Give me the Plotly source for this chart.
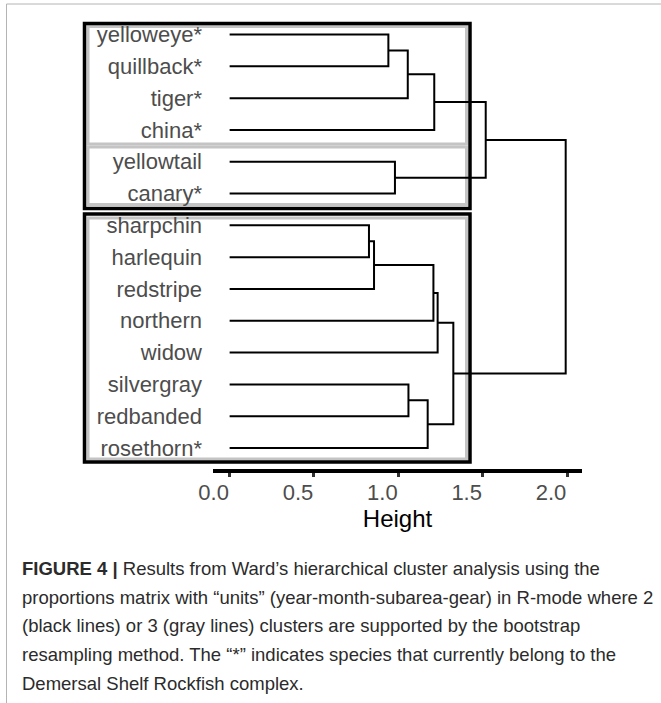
import plotly.graph_objects as go

# ---------------- data ----------------
labels = ["yelloweye*", "quillback*", "tiger*", "china*", "yellowtail", "canary*",
          "sharpchin", "harlequin", "redstripe", "northern", "widow",
          "silvergray", "redbanded", "rosethorn*"]

# hclust-style merge table: negative = leaf (1-based), positive = earlier merge
merge_left = [-1, 1, 2, -5, 3, -7, 6, 7, 8, -12, 10, 9, 5]
merge_right = [-2, -3, -4, -6, 4, -8, -9, -10, -11, -13, -14, 11, 12]
merge_height = [0.941, 1.056, 1.213, 0.980, 1.518, 0.826, 0.856, 1.208, 1.233,
                1.060, 1.174, 1.326, 1.992]

tick_vals = [0.0, 0.5, 1.0, 1.5, 2.0]
tick_text = ["0.0", "0.5", "1.0", "1.5", "2.0"]

caption_lines = [
    "<b>FIGURE 4 |</b> Results from Ward’s hierarchical cluster analysis using the",
    "proportions matrix with “units” (year-month-subarea-gear) in R-mode where 2",
    "(black lines) or 3 (gray lines) clusters are supported by the bootstrap",
    "resampling method. The “*” indicates species that currently belong to the",
    "Demersal Shelf Rockfish complex.",
]

# ---------------- layout geometry (pixels) ----------------
W, H = 661, 703
L, R, T, B = 213, 582, 14, 469


def px(x):
    return (x - L) / (R - L)


def py(y):
    return (B - y) / (B - T)


# ---------------- dendrogram segments ----------------
leaf_pos = list(range(1, len(labels) + 1))
node_pos, node_h = [], []


def child(c):
    if c < 0:
        return leaf_pos[-c - 1], 0.0
    return node_pos[c - 1], node_h[c - 1]


xs, ys = [], []
for a, b, h in zip(merge_left, merge_right, merge_height):
    pa, ha = child(a)
    pb, hb = child(b)
    xs += [ha, h, h, hb, None]
    ys += [pa, pa, pb, pb, None]
    node_pos.append((pa + pb) / 2)
    node_h.append(h)

fig = go.Figure()
fig.add_trace(go.Scatter(x=xs, y=ys, mode="lines",
                         line=dict(color="black", width=2),
                         hoverinfo="skip", showlegend=False, cliponaxis=False))

# ---------------- boxes ----------------
shapes = []
# outer frame of the figure panel
shapes.append(dict(type="rect", xref="paper", yref="paper",
                   x0=px(6.5), x1=px(670), y0=py(4), y1=py(720),
                   line=dict(color="#b4b4b4", width=1), layer="below"))
gray_boxes = [(88, 466.5, 26.5, 144), (88, 466.5, 147, 204.5), (88, 466.5, 218, 459)]
for x0, x1, y0, y1 in gray_boxes:
    shapes.append(dict(type="rect", xref="paper", yref="paper",
                       x0=px(x0), x1=px(x1), y0=py(y0), y1=py(y1),
                       line=dict(color="#c4c4c4", width=3), layer="below"))
black_boxes = [(84.5, 470, 23.5, 208.5), (84.5, 470, 214, 462)]
for x0, x1, y0, y1 in black_boxes:
    shapes.append(dict(type="rect", xref="paper", yref="paper",
                       x0=px(x0), x1=px(x1), y0=py(y0), y1=py(y1),
                       line=dict(color="black", width=3.5), layer="below"))

# ---------------- caption ----------------
annotations = []
cap_y = [568, 597, 625, 654, 683]
for line, yy in zip(caption_lines, cap_y):
    annotations.append(dict(text=line, xref="paper", yref="paper",
                            x=px(20), y=py(yy), xanchor="left", yanchor="middle",
                            showarrow=False,
                            font=dict(family="Liberation Sans, Arial", size=18.5,
                                      color="#2b2b2b")))

fig.update_layout(
    width=W, height=H,
    margin=dict(l=L, r=W - R, t=T, b=H - B, pad=0),
    paper_bgcolor="white", plot_bgcolor="white",
    shapes=shapes, annotations=annotations,
    xaxis=dict(range=[-0.0985, 2.0887], tickvals=tick_vals, ticktext=tick_text,
               showgrid=False, zeroline=False, showline=True, linecolor="black",
               linewidth=4, ticks="outside", ticklen=4, tickwidth=2.5,
               tickcolor="#333333", ticklabelshift=-16, ticklabelstandoff=-3,
               tickfont=dict(family="Liberation Sans, Arial", size=22, color="#4d4d4d"),
               title=dict(text="Height", standoff=4,
                          font=dict(family="Liberation Sans, Arial", size=24,
                                    color="black"))),
    yaxis=dict(range=[14.66, 0.355], tickvals=leaf_pos, ticktext=labels,
               showgrid=False, zeroline=False, showline=False, ticks="",
               ticklabelstandoff=10,
               tickfont=dict(family="Liberation Sans, Arial", size=22, color="#4d4d4d")),
)

fig.write_html("out.html", config={"displayModeBar": False},
               post_script="document.body.style.margin='0';document.body.style.padding='0';")
